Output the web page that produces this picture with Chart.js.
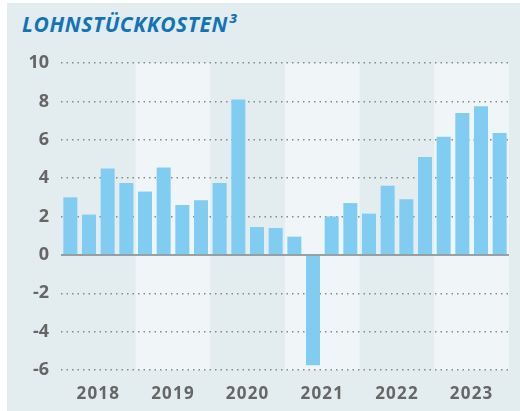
<!DOCTYPE html>
<html>
<head>
<meta charset="utf-8">
<script src="https://cdn.jsdelivr.net/npm/chart.js@4"></script>
<style>
  body { margin: 0; background: #fff; }
  #panel { position: absolute; left: 7px; top: 3px; width: 513px; height: 408px; background: #e3ecef; }
  #title { position: absolute; left: 15px; top: 11px; margin: 0; font: italic 700 21px "Open Sans", sans-serif; line-height: 1; color: #1273b9; letter-spacing: 0.6px; }
  canvas { position: absolute; left: 0; top: 0; }
</style>
</head>
<body>
<div id="panel">
  <h1 id="title">LOHNSTÜCKKOSTEN³</h1>
  <canvas id="chart" width="513" height="408"></canvas>
</div>
<script>
const years = ['2018', '2019', '2020', '2021', '2022', '2023'];
const quarters = [
    'Q1 2018', 'Q2 2018', 'Q3 2018', 'Q4 2018',
    'Q1 2019', 'Q2 2019', 'Q3 2019', 'Q4 2019',
    'Q1 2020', 'Q2 2020', 'Q3 2020', 'Q4 2020',
    'Q1 2021', 'Q2 2021', 'Q3 2021', 'Q4 2021',
    'Q1 2022', 'Q2 2022', 'Q3 2022', 'Q4 2022',
    'Q1 2023', 'Q2 2023', 'Q3 2023', 'Q4 2023'
];
const costs = [
    3.0, 2.1, 4.5, 3.75,
    3.3, 4.55, 2.6, 2.85,
    3.75, 8.1, 1.45, 1.4,
    0.95, -5.75, 2.0, 2.7,
    2.15, 3.6, 2.9, 5.1,
    6.15, 7.4, 7.75, 6.35
];
const yMin = -6;
const yMax = 10;
const yStep = 2;

// light bands behind every second year
const yearBands = {
    id: 'yearBands',
    afterLayout(chart) {
        // spaced-out year labels
        const xs = chart.scales.xYear;
        if (!xs._spaced) {
            const orig = xs.drawLabels.bind(xs);
            xs.drawLabels = (area) => {
                chart.ctx.save();
                chart.ctx.letterSpacing = '1.2px';
                orig(area);
                chart.ctx.restore();
            };
            xs._spaced = true;
        }
    },
    beforeDraw(chart) {
        const { ctx, chartArea } = chart;
        const xs = chart.scales.xYear;
        const w = (xs.right - xs.left) / years.length;
        ctx.save();
        ctx.fillStyle = '#f0f6f7';
        years.forEach((y, i) => {
            if (i % 2 === 1) {
                const cx = xs.getPixelForValue(i);
                ctx.fillRect(cx - w / 2, chartArea.top, w, chartArea.bottom - chartArea.top);
            }
        });
        ctx.restore();
    }
};

// solid zero line on top of bars
const zeroLine = {
    id: 'zeroLine',
    afterDatasetsDraw(chart) {
        const { ctx, chartArea } = chart;
        const y = chart.scales.y.getPixelForValue(0);
        ctx.save();
        ctx.strokeStyle = '#7b878b';
        ctx.lineWidth = 1.5;
        ctx.beginPath();
        ctx.moveTo(chartArea.left, y);
        ctx.lineTo(chartArea.right, y);
        ctx.stroke();
        ctx.restore();
    }
};

new Chart(document.getElementById('chart'), {
    type: 'bar',
    data: {
        labels: quarters,
        datasets: [{
            data: costs,
            backgroundColor: '#81cdf2',
            borderWidth: 0,
            barPercentage: 0.75,
            categoryPercentage: 1
        }]
    },
    options: {
        responsive: false,
        animation: false,
        layout: { padding: { top: 60, right: 11, left: 0, bottom: 0 } },
        plugins: {
            legend: { display: false },
            tooltip: { enabled: false }
        },
        scales: {
            x: {
                display: false,
                offset: true
            },
            xYear: {
                type: 'category',
                labels: years,
                position: 'bottom',
                offset: true,
                grid: { display: false, drawTicks: false },
                border: { display: false },
                ticks: {
                    padding: 14,
                    color: '#666',
                    font: { family: 'Open Sans', size: 17, weight: 'bold' }
                },
                afterFit(scale) { scale.height = 41; }
            },
            y: {
                min: yMin,
                max: yMax,
                ticks: {
                    stepSize: yStep,
                    padding: 12,
                    color: '#666',
                    font: { family: 'Open Sans', size: 18, weight: 'bold' }
                },
                grid: {
                    drawTicks: false,
                    lineWidth: 1.5,
                    color: ctx => ctx.tick && ctx.tick.value === 0 ? 'rgba(0,0,0,0)' : '#888'
                },
                border: { display: false, dash: [1.5, 4] },
                afterFit(scale) { scale.width = 54; }
            }
        }
    },
    plugins: [yearBands, zeroLine]
});
</script>
</body>
</html>
